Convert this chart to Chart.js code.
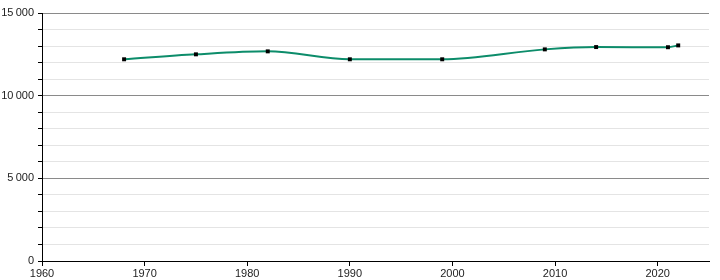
<!DOCTYPE html>
<html>
<head>
<meta charset="utf-8">
<script src="https://cdn.jsdelivr.net/npm/chart.js@4"></script>
<style>
  html, body { margin: 0; padding: 0; background: #fff; }
  #wrap { width: 720px; height: 280px; }
</style>
</head>
<body>
<div id="wrap"><canvas id="popChart"></canvas></div>
<script>
// census years and population
const years = [1968, 1975, 1982, 1990, 1999, 2009, 2014, 2021, 2022];
const population = [12200, 12500, 12680, 12200, 12200, 12800, 12940, 12930, 13040];
const yearTicks = [1960, 1970, 1980, 1990, 2000, 2010, 2020];
const popTicks = [0, 5000, 10000, 15000];

const fmt = v => String(v).replace(/\B(?=(\d{3})+(?!\d))/g, "\u202f");

const ctx = document.getElementById("popChart").getContext("2d");

new Chart(ctx, {
  type: "line",
  data: {
    datasets: [{
      data: years.map((y, i) => ({ x: y, y: population[i] })),
      borderColor: "#0c8c6a",
      borderWidth: 2,
      cubicInterpolationMode: "monotone",
      pointStyle: "rect",
      pointRadius: 2.8,
      pointBackgroundColor: "#000",
      pointBorderColor: "#000",
      pointBorderWidth: 0,
    }],
  },
  options: {
    responsive: true,
    maintainAspectRatio: false,
    animation: false,
    layout: { padding: { top: 13, right: 11, left: 0, bottom: 0 } },
    plugins: { legend: { display: false }, tooltip: { enabled: false } },
    scales: {
      x: {
        type: "linear",
        min: 1960,
        max: 2025,
        ticks: {
          stepSize: 10,
          includeBounds: false,
          color: "#222",
          font: { family: "'Liberation Sans', Arial, sans-serif", size: 11 },
          padding: 1,
          maxRotation: 0,
          callback: v => (yearTicks.includes(v) ? String(v) : ""),
        },
        grid: { drawOnChartArea: false, drawTicks: true, tickLength: 5, tickColor: "#000" },
        border: { color: "#000", width: 1 },
        afterFit: s => { s.height = 19; },
      },
      y: {
        min: 0,
        max: 15000,
        ticks: {
          stepSize: 1000,
          includeBounds: false,
          color: "#222",
          font: { family: "'Liberation Sans', Arial, sans-serif", size: 11 },
          padding: 4,
          callback: v => (popTicks.includes(v) ? fmt(v) : ""),
        },
        grid: {
          color: c => (c.tick && c.tick.value % 5000 === 0 ? "#8a8a8a" : "#e4e4e4"),
          lineWidth: 1,
          tickLength: 4,
          tickColor: "#000",
        },
        border: { color: "#000", width: 1 },
        afterFit: s => { s.width = 42; },
      },
    },
  },
});
</script>
</body>
</html>
